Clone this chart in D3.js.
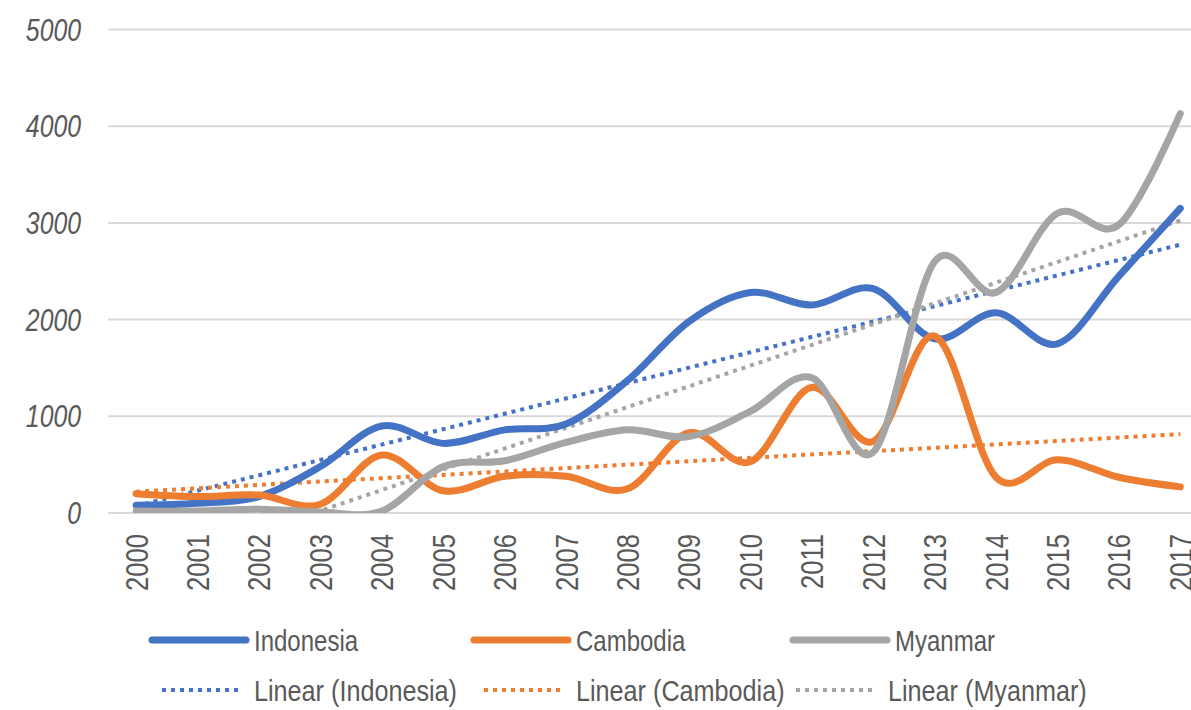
<!DOCTYPE html>
<html>
<head>
<meta charset="utf-8">
<script src="https://cdn.jsdelivr.net/npm/d3@7"></script>
<style>
  body { margin:0; background:#fff; }
  svg { display:block; }
  text { font-family:'Liberation Sans Narrow','Arial Narrow','Liberation Sans',sans-serif; fill:#595959; }
</style>
</head>
<body>
<svg id="chart" width="1191" height="710"></svg>
<script>

// data
var years = ['2000','2001','2002','2003','2004','2005','2006','2007','2008',
             '2009','2010','2011','2012','2013','2014','2015','2016','2017'];
var indonesia = [80,100,170,480,900,720,860,920,1370,1980,2280,2150,2320,1800,2070,1750,2450,3150];
var cambodia  = [200,170,185,90,600,230,380,380,250,830,530,1300,740,1830,370,550,370,270];
var myanmar   = [20,20,40,10,20,480,540,730,860,790,1050,1400,630,2600,2280,3100,2980,4130];
var yTicks = [0,1000,2000,3000,4000,5000];
// linear trend lines, value at 2000 and at 2017
var trendStart = [72,220,-620];
var trendEnd   = [2775,815,3025];
var seriesNames = ['Indonesia','Cambodia','Myanmar'];

var colorBlue = '#4472c4';
var colorOrange = '#ed7d31';
var colorGray = '#a5a5a5';
var colorGrid = '#d9d9d9';
var colors = [colorBlue,colorOrange,colorGray];
var allSeries = [indonesia,cambodia,myanmar];

// no narrow font installed, so squeeze the regular one
var squeeze = 0.8;
var legendSqueeze = 0.84;

var svg = d3.select('#chart');

var plotLeft = 105.4;
var plotRight = 1211;
var plotTop = 29.5;
var plotBottom = 513;

var x = d3.scalePoint()
          .domain(years)
          .range([plotLeft,plotRight])
          .padding(0.5);
var y = d3.scaleLinear()
          .domain([0,5000])
          .range([plotBottom,plotTop]);

svg.append('clipPath')
   .attr('id','plotClip')
   .append('rect')
   .attr('x',plotLeft)
   .attr('y',plotTop-10)
   .attr('width',plotRight-plotLeft)
   .attr('height',plotBottom-plotTop+10);

// gridlines
svg.append('g')
   .selectAll('line')
   .data(yTicks)
   .join('line')
   .attr('x1',108)
   .attr('x2',plotRight)
   .attr('y1',function(d){ return y(d); })
   .attr('y2',function(d){ return y(d); })
   .attr('stroke',colorGrid)
   .attr('stroke-width',2);

// y labels
svg.append('g')
   .selectAll('text')
   .data(yTicks)
   .join('text')
   .text(function(d){ return d; })
   .attr('transform',function(d){ return 'translate(81,' + y(d) + ') scale(' + squeeze + ',1)'; })
   .attr('dy','0.36em')
   .attr('text-anchor','end')
   .style('font-size','31px')
   .style('font-style','italic');

// x labels
svg.append('g')
   .selectAll('text')
   .data(years)
   .join('text')
   .text(function(d){ return d; })
   .attr('transform',function(d){ return 'translate(' + x(d) + ',534) rotate(-90) scale(' + squeeze + ',1)'; })
   .attr('dy','0.36em')
   .attr('text-anchor','end')
   .style('font-size','32px');

var plot = svg.append('g')
              .attr('clip-path','url(#plotClip)');

// trend lines
plot.selectAll('line.trend')
    .data([0,1,2])
    .join('line')
    .attr('class','trend')
    .attr('x1',x(years[0]))
    .attr('x2',x(years[years.length-1]))
    .attr('y1',function(i){ return y(trendStart[i]); })
    .attr('y2',function(i){ return y(trendEnd[i]); })
    .attr('stroke',function(i){ return colors[i]; })
    .attr('stroke-width',4)
    .attr('stroke-dasharray','4,5');

// smoothed series lines
var line = d3.line()
             .x(function(d,i){ return x(years[i]); })
             .y(function(d){ return y(d); })
             .curve(d3.curveCardinal.tension(0));

plot.selectAll('path.series')
    .data([0,1,2])
    .join('path')
    .attr('class','series')
    .attr('d',function(i){ return line(allSeries[i]); })
    .attr('fill','none')
    .attr('stroke',function(i){ return colors[i]; })
    .attr('stroke-width',7)
    .attr('stroke-linecap','round')
    .attr('stroke-linejoin','round');

// legend
var legendLineX = [152,474,793];
var legendTrendX = [162,484,796];

var legend = svg.append('g');
legend.selectAll('line.key')
      .data([0,1,2])
      .join('line')
      .attr('class','key')
      .attr('x1',function(i){ return legendLineX[i]; })
      .attr('x2',function(i){ return legendLineX[i]+94; })
      .attr('y1',640)
      .attr('y2',640)
      .attr('stroke',function(i){ return colors[i]; })
      .attr('stroke-width',7)
      .attr('stroke-linecap','round');
legend.selectAll('text.key')
      .data([0,1,2])
      .join('text')
      .attr('class','key')
      .text(function(i){ return seriesNames[i]; })
      .attr('transform',function(i){ return 'translate(' + (legendLineX[i]+102) + ',640) scale(' + squeeze + ',1)'; })
      .attr('dy','0.36em')
      .style('font-size','30px');
legend.selectAll('line.trendkey')
      .data([0,1,2])
      .join('line')
      .attr('class','trendkey')
      .attr('x1',function(i){ return legendTrendX[i]; })
      .attr('x2',function(i){ return legendTrendX[i]+81; })
      .attr('y1',690)
      .attr('y2',690)
      .attr('stroke',function(i){ return colors[i]; })
      .attr('stroke-width',4)
      .attr('stroke-dasharray','4,5');
legend.selectAll('text.trendkey')
      .data([0,1,2])
      .join('text')
      .attr('class','trendkey')
      .text(function(i){ return 'Linear (' + seriesNames[i] + ')'; })
      .attr('transform',function(i){ return 'translate(' + (legendTrendX[i]+92) + ',690) scale(' + legendSqueeze + ',1)'; })
      .attr('dy','0.36em')
      .style('font-size','30px');

</script>
</body>
</html>
